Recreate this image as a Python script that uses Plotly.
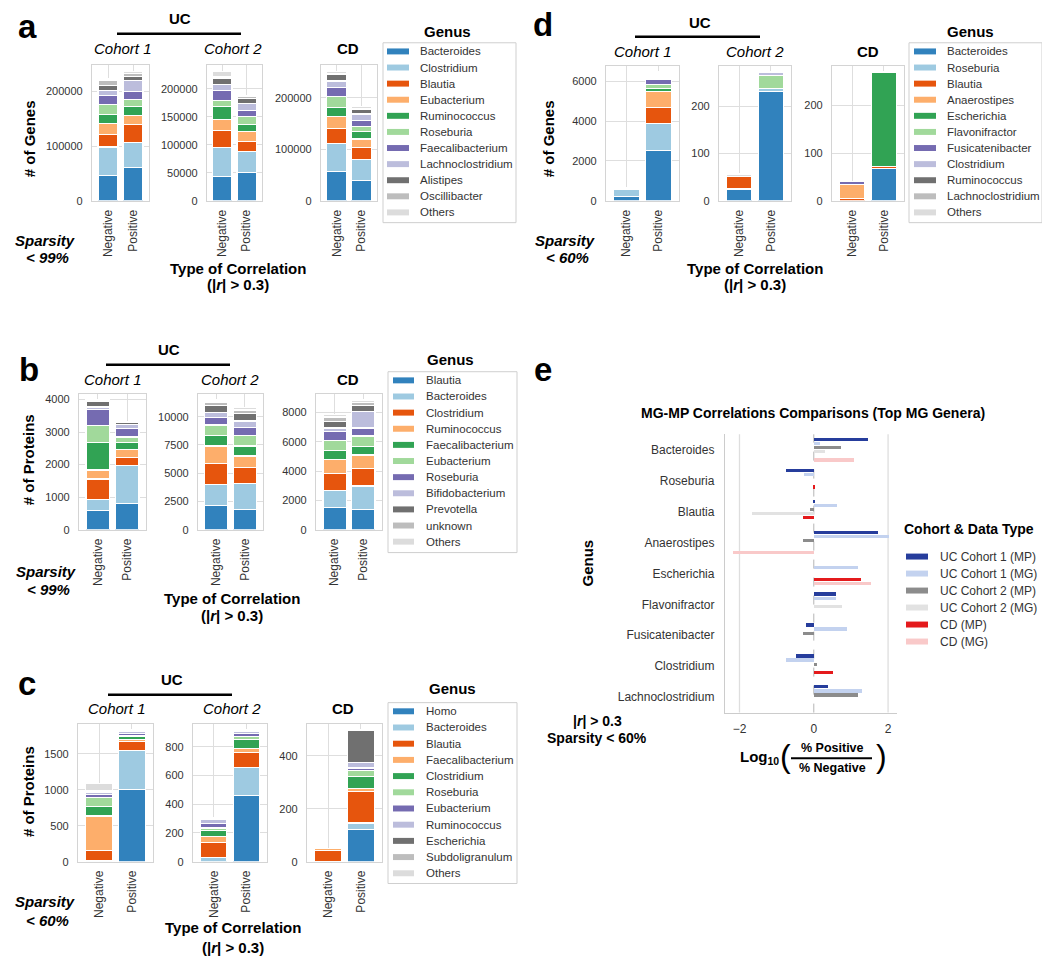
import plotly.graph_objects as go

# The page body has an 8px margin, so the figure is sized to fill the rest of the window
OFF = 8
W, H = 1050 - OFF, 972 - OFF
FONT = "Liberation Sans, Arial, Helvetica, sans-serif"

# ---------------- data ----------------
corr_types = ["Negative", "Positive"]
cohorts = ["Cohort 1", "Cohort 2", "CD"]
bar_colors = ["#3182bd", "#9ecae1", "#e6550d", "#fdae6b", "#31a354", "#a1d99b",
              "#756bb1", "#bcbddc", "#707070", "#bdbdbd", "#dcdcdc"]

genus_a = ["Bacteroides", "Clostridium", "Blautia", "Eubacterium", "Ruminococcus", "Roseburia",
           "Faecalibacterium", "Lachnoclostridium", "Alistipes", "Oscillibacter", "Others"]
a_uc1_neg = [46800, 51700, 22500, 21000, 16600, 18400, 15700, 9100, 9000, 9000, 3400]
a_uc1_pos = [60800, 45600, 32800, 17000, 16400, 12800, 14600, 20000, 7000, 5500, 5000]
a_uc2_neg = [43700, 51300, 30100, 20000, 23000, 11300, 17700, 10600, 11200, 2300, 10100]
a_uc2_pos = [50700, 37800, 17500, 17000, 13000, 14000, 11000, 13000, 9000, 3000, 2000]
a_cd_neg = [56600, 54000, 30200, 22500, 18700, 20000, 18000, 12800, 12800, 2400, 4000]
a_cd_pos = [40000, 40400, 23100, 16500, 15000, 10000, 11000, 12500, 8500, 3000, 2600]

genus_b = ["Blautia", "Bacteroides", "Clostridium", "Ruminococcus", "Faecalibacterium", "Eubacterium",
           "Roseburia", "Bifidobacterium", "Prevotella", "unknown", "Others"]
b_uc1_neg = [585, 338, 636, 277, 851, 513, 482, 90, 180, 20, 10]
b_uc1_pos = [800, 1169, 246, 247, 205, 183, 247, 133, 52, 18, 13]
b_uc2_neg = [2176, 1794, 1912, 1530, 911, 942, 647, 470, 618, 300, 170]
b_uc2_pos = [1765, 2353, 1411, 1000, 883, 941, 706, 558, 677, 300, 200]
b_cd_neg = [1500, 1200, 1150, 950, 600, 700, 600, 250, 450, 300, 150]
b_cd_pos = [1380, 1610, 1210, 900, 600, 700, 550, 1100, 450, 200, 150]

genus_c = ["Homo", "Bacteroides", "Blautia", "Faecalibacterium", "Clostridium", "Roseburia",
           "Eubacterium", "Ruminococcus", "Escherichia", "Subdoligranulum", "Others"]
c_uc1_neg = [0, 10, 140, 483, 136, 122, 47, 30, 5, 15, 100]
c_uc1_pos = [1003, 544, 126, 24, 37, 24, 20, 36, 0, 5, 9]
c_uc2_neg = [0, 28, 106, 40, 42, 19, 33, 24, 0, 5, 13]
c_uc2_pos = [463, 193, 106, 28, 61, 19, 21, 17, 0, 4, 5]
c_cd_neg = [0, 2, 39, 10, 0, 0, 0, 0, 0, 0, 0]
c_cd_pos = [120, 26, 119, 11, 45, 22, 11, 21, 122, 0, 0]

genus_d = ["Bacteroides", "Roseburia", "Blautia", "Anaerostipes", "Escherichia", "Flavonifractor",
           "Fusicatenibacter", "Clostridium", "Ruminococcus", "Lachnoclostridium", "Others"]
d_uc1_neg = [198, 380, 10, 5, 0, 0, 0, 0, 0, 0, 90]
d_uc1_pos = [2538, 1336, 807, 824, 132, 214, 264, 99, 99, 66, 82]
d_uc2_neg = [25, 0, 26, 0, 0, 0, 0, 0, 0, 0, 6]
d_uc2_pos = [232, 6, 0, 0, 0, 28, 0, 7, 0, 0, 0]
d_cd_neg = [0, 0, 4, 31, 0, 0, 5, 0, 0, 0, 1]
d_cd_pos = [67, 0, 5, 0, 198, 0, 0, 0, 0, 0, 0]

genus_e = ["Bacteroides", "Roseburia", "Blautia", "Anaerostipes", "Escherichia", "Flavonifractor",
           "Fusicatenibacter", "Clostridium", "Lachnoclostridium"]
series_e = ["UC Cohort 1 (MP)", "UC Cohort 1 (MG)", "UC Cohort 2 (MP)", "UC Cohort 2 (MG)", "CD (MP)", "CD (MG)"]
e_uc1_mp = [1.47, -0.74, 0.02, 1.74, 0, 0.60, -0.22, -0.47, 0.39]
e_uc1_mg = [0.18, -0.27, 0.63, 2.03, 1.19, 0.60, 0.89, -0.75, 1.29]
e_uc2_mp = [0.73, 0, -0.10, -0.29, 0, 0, -0.30, 0.08, 1.20]
e_uc2_mg = [0.29, 0, -1.66, 0, 0, 0.76, 0, 0, 0]
e_cd_mp = [0, 0.04, -0.29, 0, 1.27, 0, 0, 0.53, 0]
e_cd_mg = [1.09, 0, 0, -2.18, 1.54, 0, 0, 0, 0]
e_colors = ["#263d9c", "#c3d2ef", "#8c8c8c", "#e2e2e2", "#e41a1c", "#f9c9c9"]

# ---------------- layout geometry (window pixels) ----------------
panels = [
    dict(genus=genus_a, data=[(a_uc1_neg, a_uc1_pos), (a_uc2_neg, a_uc2_pos), (a_cd_neg, a_cd_pos)],
         xs=[(92, 149), (207, 262), (321, 377)], ys=(65, 202), dticks=[100000, 50000, 100000]),
    dict(genus=genus_b, data=[(b_uc1_neg, b_uc1_pos), (b_uc2_neg, b_uc2_pos), (b_cd_neg, b_cd_pos)],
         xs=[(79, 146), (198, 263), (316, 382)], ys=(396, 533), dticks=[1000, 2500, 2000]),
    dict(genus=genus_c, data=[(c_uc1_neg, c_uc1_pos), (c_uc2_neg, c_uc2_pos), (c_cd_neg, c_cd_pos)],
         xs=[(78, 153), (193, 267), (307, 382)], ys=(728, 867), dticks=[500, 200, 200]),
    dict(genus=genus_d, data=[(d_uc1_neg, d_uc1_pos), (d_uc2_neg, d_uc2_pos), (d_cd_neg, d_cd_pos)],
         xs=[(606, 679), (719, 791), (832, 904)], ys=(66, 202), dticks=[2000, 100, 100]),
]

GRID = "#dedede"
FRAME = "#d4d4d4"
TICK = "#333333"

fig = go.Figure()
layout = {}
annotations = []
shapes = []


def X(px):
    return (px - OFF) / W


def Y(py):
    return 1 - (py - OFF) / H


def txt(x, y, text, size, color="black", xanchor="center", angle=0):
    annotations.append(dict(x=X(x), y=Y(y), xref="paper", yref="paper", text=text, showarrow=False,
                            font=dict(family=FONT, size=size, color=color), xanchor=xanchor,
                            yanchor="middle", textangle=angle, borderpad=0))


def rect(x0, y0, x1, y1, fill):
    shapes.append(dict(type="rect", xref="paper", yref="paper", x0=X(x0), x1=X(x1), y0=Y(y1), y1=Y(y0),
                       fillcolor=fill, line=dict(width=0), layer="above"))


def hline(x0, x1, y, width=2.5, color="black"):
    shapes.append(dict(type="line", xref="paper", yref="paper", x0=X(x0), x1=X(x1), y0=Y(y), y1=Y(y),
                       line=dict(color=color, width=width)))


k = 0
for p in panels:
    for ci, ((neg, pos), (x0, x1), dt) in enumerate(zip(p["data"], p["xs"], p["dticks"])):
        k += 1
        for gi, g in enumerate(p["genus"]):
            vals = [neg[gi] if neg[gi] else None, pos[gi] if pos[gi] else None]
            fig.add_trace(go.Bar(x=corr_types, y=vals, name=g, marker_color=bar_colors[gi],
                                 marker_line=dict(color="white", width=1.2), width=0.8,
                                 xaxis=f"x{k}", yaxis=f"y{k}", showlegend=False))
        top = max(sum(neg), sum(pos)) * 1.05
        layout[f"xaxis{k}"] = dict(domain=[X(x0), X(x1)], anchor=f"y{k}", type="category",
                                   categoryorder="array", categoryarray=corr_types,
                                   range=[-0.64, 1.64], tickangle=-90, showgrid=True, gridcolor=GRID,
                                   gridwidth=1.3, showline=True, mirror=True, linecolor=FRAME,
                                   linewidth=1.3, ticks="outside", ticklen=3,
                                   tickcolor="rgba(0,0,0,0)", zeroline=False,
                                   tickfont=dict(family=FONT, size=12, color=TICK), fixedrange=True)
        y0, y1 = p["ys"]
        layout[f"yaxis{k}"] = dict(domain=[Y(y1), Y(y0)], anchor=f"x{k}", range=[0, top], dtick=dt,
                                   tickformat="d", showgrid=True, gridcolor=GRID, gridwidth=1.3,
                                   showline=True, mirror=True, linecolor=FRAME, linewidth=1.3,
                                   ticks="outside", ticklen=6, tickcolor="rgba(0,0,0,0)",
                                   zeroline=False, tickfont=dict(family=FONT, size=11, color=TICK),
                                   fixedrange=True)

# ---------------- panel e ----------------
k += 1
ke = k
e_series_vals = [e_uc1_mp, e_uc1_mg, e_uc2_mp, e_uc2_mg, e_cd_mp, e_cd_mg]
nser = len(series_e)
for j, (nm, vals, col) in enumerate(zip(series_e, e_series_vals, e_colors)):
    ypos = [i + (j - (nser - 1) / 2) * 0.8 / nser for i in range(len(genus_e))]
    fig.add_trace(go.Bar(x=[v if v else None for v in vals], y=ypos, orientation="h", name=nm,
                         marker_color=col, marker_line_width=0, width=0.105,
                         xaxis=f"x{ke}", yaxis=f"y{ke}", showlegend=False))
layout[f"xaxis{ke}"] = dict(domain=[X(725), X(897)], anchor=f"y{ke}", range=[-2.39, 2.24],
                            tickvals=[-2, 0, 2], showgrid=False, zeroline=False, showline=True,
                            linecolor="#cccccc", linewidth=1.3, ticks="outside", ticklen=5,
                            tickcolor="rgba(0,0,0,0)",
                            tickfont=dict(family=FONT, size=12, color=TICK), fixedrange=True)
layout[f"yaxis{ke}"] = dict(domain=[Y(717), Y(437)], anchor=f"x{ke}", range=[8.5, -0.5],
                            tickvals=list(range(len(genus_e))), ticktext=genus_e, showgrid=False,
                            zeroline=False, showline=True, linecolor="#cccccc", linewidth=1.3,
                            ticks="outside", ticklen=7, tickcolor="rgba(0,0,0,0)",
                            tickfont=dict(family=FONT, size=12, color=TICK), fixedrange=True)
for gx in (-2, 2):
    shapes.append(dict(type="line", xref=f"x{ke}", yref=f"y{ke} domain", x0=gx, x1=gx, y0=0, y1=1,
                       line=dict(color=GRID, width=1.3), layer="below"))
shapes.append(dict(type="line", xref=f"x{ke}", yref=f"y{ke} domain", x0=0, x1=0, y0=0, y1=1,
                   line=dict(color="#b5b5b5", width=1, dash="dash"), layer="below"))

# ---------------- texts for bar panels ----------------
hdr = [
    dict(letter="a", lp=(27, 27), uc=(180, 19), line=(117, 241, 34), cy=49, cx=(123, 233, 348),
         yt="# of Genes", ytp=(29, 140), sp=(45, 242, 259), spt="< 99%", toc=(238, 270, 286)),
    dict(letter="b", lp=(29, 372), uc=(169, 352), line=(106, 230, 367), cy=382, cx=(113, 230, 348),
         yt="# of Proteins", ytp=(28, 463), sp=(46, 575, 593), spt="< 99%", toc=(232, 602, 619)),
    dict(letter="c", lp=(27, 688), uc=(172, 684), line=(108, 232, 699), cy=713, cx=(117, 232, 343),
         yt="# of Proteins", ytp=(28, 797), sp=(45, 907, 926), spt="< 60%", toc=(233, 933, 953)),
    dict(letter="d", lp=(543, 25), uc=(700, 23), line=(635, 760, 37), cy=52, cx=(643, 755, 868),
         yt="# of Genes", ytp=(548, 140), sp=(565, 242, 259), spt="< 60%", toc=(755, 270, 286)),
]
for h in hdr:
    txt(h["lp"][0], h["lp"][1], f"<b>{h['letter']}</b>", 33)
    txt(h["uc"][0], h["uc"][1], "<b>UC</b>", 15)
    hline(h["line"][0], h["line"][1], h["line"][2])
    txt(h["cx"][0], h["cy"], "<i>" + cohorts[0] + "</i>", 15)
    txt(h["cx"][1], h["cy"], "<i>" + cohorts[1] + "</i>", 15)
    txt(h["cx"][2], h["cy"], "<b>" + cohorts[2] + "</b>", 15)
    txt(h["ytp"][0], h["ytp"][1], f"<b>{h['yt']}</b>", 15, angle=-90)
    txt(h["sp"][0], h["sp"][1], "<b><i>Sparsity</i></b>", 15)
    txt(h["sp"][0] + 2, h["sp"][2], f"<b><i>{h['spt']}</i></b>", 15)
    txt(h["toc"][0], h["toc"][1], "<b>Type of Correlation</b>", 15)
    txt(h["toc"][0], h["toc"][2], "<b>(|<i>r</i>| &gt; 0.3)</b>", 15)

# ---------------- manual legends for bar panels ----------------
legends = [
    dict(genus=genus_a, box=(383, 43, 516, 224), title=(447, 32), sw=(387, 409), tx=419, y0=51.7, dy=16.2),
    dict(genus=genus_b, box=(388, 374, 517, 556), title=(450, 362), sw=(393, 414), tx=425, y0=382.7, dy=16.23),
    dict(genus=genus_c, box=(388, 707, 517, 889), title=(452, 693), sw=(393, 414), tx=425, y0=715.7, dy=16.3),
    dict(genus=genus_d, box=(909, 43, 1042, 224), title=(970, 32), sw=(914, 936), tx=946, y0=51.7, dy=16.2),
]
for lg in legends:
    bx0, by0, bx1, by1 = lg["box"]
    shapes.append(dict(type="rect", xref="paper", yref="paper", x0=X(bx0), x1=X(bx1), y0=Y(by1), y1=Y(by0),
                       fillcolor="white", line=dict(color="#cfcfcf", width=1)))
    txt(lg["title"][0], lg["title"][1], "<b>Genus</b>", 15)
    for i, g in enumerate(lg["genus"]):
        yy = lg["y0"] + i * lg["dy"]
        rect(lg["sw"][0], yy - 3, lg["sw"][1], yy + 3, bar_colors[i])
        txt(lg["tx"], yy, g, 11.5, color="#333333", xanchor="left")

# ---------------- panel e texts ----------------
txt(543, 372, "<b>e</b>", 33)
txt(813, 416, "<b>MG-MP Correlations Comparisons (Top MG Genera)</b>", 14)
txt(588, 567, "<b>Genus</b>", 15, angle=-90)
txt(597, 725, "<b>|<i>r</i>| &gt; 0.3</b>", 14)
txt(597, 743, "<b>Sparsity &lt; 60%</b>", 14)
txt(759, 762, "<b>Log<sub>10</sub></b>", 15)
txt(785, 761, "(", 32)
txt(881, 761, ")", 32)
txt(832, 753, "<b>% Positive</b>", 12.5)
hline(791, 872, 763, width=2)
txt(832, 773, "<b>% Negative</b>", 12.5)

txt(903, 532, "<b>Cohort &amp; Data Type</b>", 14, xanchor="left")
for j, nm in enumerate(series_e):
    yy = 560 + j * 17.1
    rect(906, yy - 3, 928, yy + 3, e_colors[j])
    txt(939, yy, nm, 12, color="#333333", xanchor="left")

fig.update_layout(width=W, height=H, margin=dict(l=0, r=0, t=0, b=0), plot_bgcolor="white",
                  paper_bgcolor="white", barmode="stack", showlegend=False,
                  font=dict(family=FONT, color="black"), annotations=annotations, shapes=shapes,
                  **layout)
fig.write_html("out.html")
